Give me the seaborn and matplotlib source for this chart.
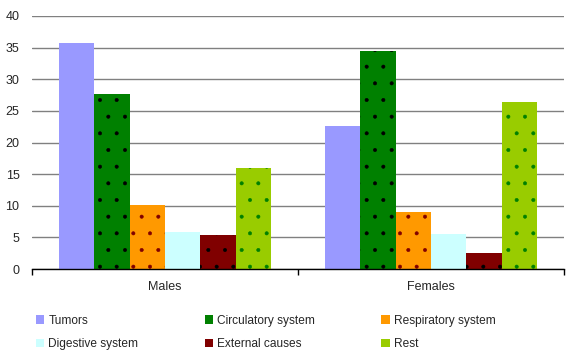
import matplotlib
matplotlib.use("Agg")
import matplotlib.pyplot as plt
import seaborn as sns
import pandas as pd
from matplotlib.patches import Patch

groups = ["Males", "Females"]
causes = ["Tumors", "Circulatory system", "Respiratory system",
          "Digestive system", "External causes", "Rest"]
males = [35.8, 27.6, 10.1, 5.9, 5.4, 15.9]
females = [22.6, 34.4, 9.0, 5.5, 2.5, 26.4]
colors = ["#9999FF", "#008000", "#FF9900", "#CCFFFF", "#800000", "#99CC00"]
hatch_colors = [None, "#000000", "#800000", None, "#000000", "#008000"]
yticks = [0, 5, 10, 15, 20, 25, 30, 35, 40]

rows = []
for g, vals in zip(groups, [males, females]):
    for c, v in zip(causes, vals):
        rows.append({"group": g, "cause": c, "value": v})
df = pd.DataFrame(rows)

sns.set_style("white")
plt.rcParams["font.family"] = ["Liberation Sans", "DejaVu Sans"]
plt.rcParams["hatch.linewidth"] = 0.4

fig = plt.figure(figsize=(5.67, 3.56), dpi=100)
ax = fig.add_axes([32/567, 1-269/356, (564-32)/567, (269-16)/356])

sns.barplot(data=df, x="group", y="value", hue="cause", order=groups,
            hue_order=causes, palette=colors, width=0.8, saturation=1,
            linewidth=0, ax=ax, legend=False)

for i, cont in enumerate(ax.containers):
    hc = hatch_colors[i]
    for bar in cont:
        bar.set_linewidth(0)
        if hc is not None:
            bar.set_hatch(".")
            bar.set_edgecolor(hc)

ax.set_ylim(0, 40)
ax.set_xlim(-0.5, 1.5)
ax.set_yticks(yticks)
ax.set_yticklabels([str(t) for t in yticks], fontsize=9)
ax.yaxis.grid(True, color="#808080", linewidth=1)
ax.set_axisbelow(True)
ax.tick_params(axis="y", length=0, pad=9)
ax.set_xticks([0, 1])
ax.set_xticklabels(groups, fontsize=9)
ax.set_xticks([-0.5, 0.5, 1.5], minor=True)
ax.tick_params(axis="x", which="major", length=0, pad=9)
ax.tick_params(axis="x", which="minor", length=4, direction="out", width=1, color="black", bottom=True)
ax.set_xlabel("")
ax.set_ylabel("")
for s in ["top", "right", "left"]:
    ax.spines[s].set_visible(False)
ax.spines["bottom"].set_color("black")
ax.spines["bottom"].set_linewidth(1)

order = [0, 3, 1, 4, 2, 5]
handles = [Patch(facecolor=colors[i], edgecolor="none", label=causes[i]) for i in order]
fig.legend(handles=handles, loc="upper left", bbox_to_anchor=(31/567, 1-310/356),
           ncol=3, frameon=False, fontsize=8.6, handlelength=0.7, handleheight=0.7,
           handletextpad=0.35, columnspacing=5.55, labelspacing=0.95, borderaxespad=0)

fig.savefig("out.png", dpi=100)
